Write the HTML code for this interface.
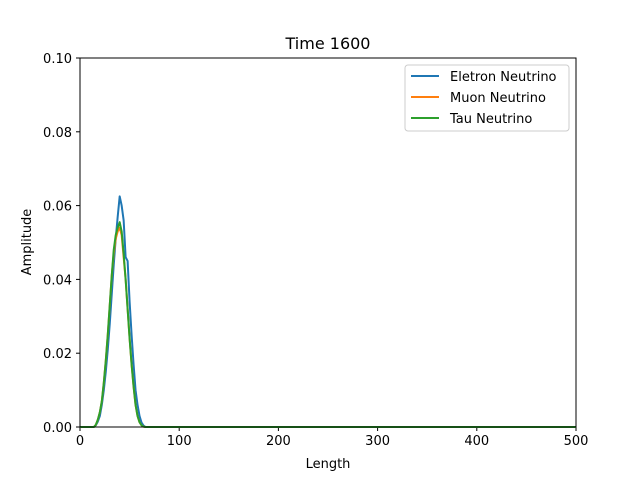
<!DOCTYPE html>
<html><head><meta charset="utf-8"><style>
body{margin:0;background:#fff;font-family:"Liberation Sans","DejaVu Sans",sans-serif;}
svg text{font-family:"DejaVu Sans","Liberation Sans",sans-serif;}
</style></head><body>
<svg id="chart" width="640" height="480">
<rect width="640" height="480" fill="#fff"/>
<text x="328" y="49" font-size="16" text-anchor="middle">Time 1600</text>
<g id="xt"></g>
<g id="yt"></g>
<g id="series"></g>
<rect x="80" y="58" width="496" height="369" fill="none" stroke="#000" stroke-width="1"/>
<text x="328" y="468" font-size="13" text-anchor="middle">Length</text>
<text x="31" y="242" font-size="13" text-anchor="middle" transform="rotate(-90 31 242)">Amplitude</text>
<g>
<rect x="405" y="65" width="164" height="66" rx="3" fill="#fff" stroke="#ccc"/>
<g><line x1="411" y1="76" x2="439" y2="76" stroke="#1f77b4" stroke-width="2"/><text x="450" y="81" font-size="13">Eletron Neutrino</text></g>
<g><line x1="411" y1="97" x2="439" y2="97" stroke="#ff7f0e" stroke-width="2"/><text x="450" y="102" font-size="13">Muon Neutrino</text></g>
<g><line x1="411" y1="118" x2="439" y2="118" stroke="#2ca02c" stroke-width="2"/><text x="450" y="123" font-size="13">Tau Neutrino</text></g>
</g>
</svg>
<script>
const xs=[0,14,16,18,20,22,24,26,28,30,32,34,36,38,40,42,44,46,48,50,52,54,56,58,60,62,64,66,500];
const electron=[0,0,0.0005,0.0015,0.003,0.006,0.010,0.015,0.021,0.028,0.036,0.044,0.051,0.057,0.0625,0.060,0.056,0.046,0.045,0.034,0.025,0.017,0.010,0.006,0.003,0.0012,0.0004,0,0];
const muon=[0,0,0.0006,0.002,0.004,0.007,0.012,0.018,0.025,0.033,0.041,0.047,0.051,0.053,0.054,0.052,0.046,0.040,0.032,0.024,0.017,0.011,0.006,0.003,0.0013,0.0005,0.0001,0,0];
const tau=[0,0,0.0006,0.002,0.004,0.007,0.012,0.018,0.025,0.033,0.041,0.048,0.052,0.054,0.0555,0.053,0.047,0.040,0.032,0.024,0.017,0.011,0.006,0.003,0.0013,0.0005,0.0001,0,0];
const xTicks=[0,100,200,300,400,500];
const yTicks=[0,0.02,0.04,0.06,0.08,0.1];
const yLabels=["0.00","0.02","0.04","0.06","0.08","0.10"];
const NS='http://www.w3.org/2000/svg';
function sx(v){return 80+v/500*496;}
function sy(v){return 427-v/0.1*369;}
const xt=document.getElementById('xt'),yt=document.getElementById('yt'),sg=document.getElementById('series');
xTicks.forEach(t=>{
 const l=document.createElementNS(NS,'line');l.setAttribute('x1',sx(t));l.setAttribute('x2',sx(t));l.setAttribute('y1',427);l.setAttribute('y2',431);l.setAttribute('stroke','#000');
 
 
 xt.appendChild(l);
 const tx=document.createElementNS(NS,'text');tx.setAttribute('x',sx(t));tx.setAttribute('y',445);tx.setAttribute('font-size','13');tx.setAttribute('text-anchor','middle');tx.textContent=t;
 
 
 xt.appendChild(tx);
});
yTicks.forEach((t,i)=>{
 const l=document.createElementNS(NS,'line');l.setAttribute('x1',76);l.setAttribute('x2',80);l.setAttribute('y1',sy(t));l.setAttribute('y2',sy(t));l.setAttribute('stroke','#000');
 
 
 yt.appendChild(l);
 const tx=document.createElementNS(NS,'text');tx.setAttribute('x',72);tx.setAttribute('y',sy(t)+5);tx.setAttribute('font-size','13');tx.setAttribute('text-anchor','end');tx.textContent=yLabels[i];
 
 
 yt.appendChild(tx);
});
[[electron,'#1f77b4','electron-line'],[muon,'#ff7f0e','muon-line'],[tau,'#2ca02c','tau-line']].forEach(s=>{
 const p=document.createElementNS(NS,'polyline');
 p.setAttribute('points',xs.map((x,i)=>sx(x)+','+sy(s[0][i])).join(' '));
 p.setAttribute('fill','none');p.setAttribute('stroke',s[1]);p.setAttribute('stroke-width','2');p.setAttribute('stroke-linejoin','round');
 
 
 sg.appendChild(p);
});
</script>
</body></html>
